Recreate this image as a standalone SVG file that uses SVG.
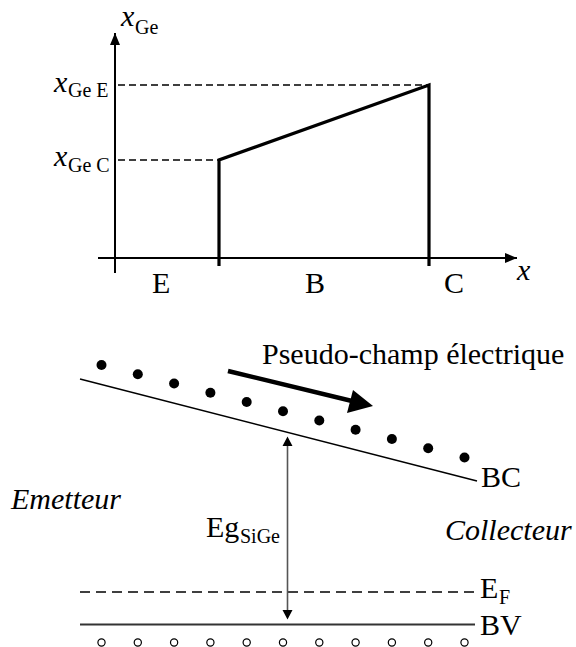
<svg xmlns="http://www.w3.org/2000/svg" width="576" height="647" viewBox="0 0 576 647">
<style>
text{font-family:"Liberation Serif","Times New Roman",Times,"DejaVu Serif",serif;fill:#000}
.t{font-size:30px}
.s{font-size:20px}
.i{font-style:italic}
.ax{stroke:#000;stroke-width:2;fill:none}
.thk{stroke:#000;stroke-width:3.2;fill:none;stroke-linejoin:miter}
.dsh{stroke:#000;stroke-width:1.3;stroke-dasharray:7 4;fill:none}
.thin{stroke:#000;stroke-width:1.4;fill:none}
</style>
<defs>
<marker id="ax" viewBox="0 0 12 10" refX="12" refY="5" markerWidth="12" markerHeight="10" markerUnits="userSpaceOnUse" orient="auto"><path d="M0,0 L12,5 L0,10 Z" fill="#000"/></marker>
</defs>
<g id="connectors">
<line class="ax" x1="115" y1="273" x2="115" y2="33" marker-end="url(#ax)"/>
<line class="ax" x1="98" y1="258" x2="517" y2="258" marker-end="url(#ax)"/>
<line class="dsh" x1="118" y1="85" x2="429" y2="85"/>
<line class="dsh" x1="118" y1="160" x2="219" y2="160"/>
<polyline class="thk" points="219,266 219,160 429,85 429,266"/>
<line class="thin" x1="80" y1="379" x2="477" y2="481"/>
<line class="dsh" x1="80" y1="592" x2="475" y2="592" style="stroke-dasharray:10 6;stroke-width:1.4"/>
<line class="thin" x1="80" y1="624.5" x2="475" y2="624.5" style="stroke:#333;stroke-width:1.8"/>
<line x1="287.5" y1="610" x2="287.5" y2="445" stroke="#555" stroke-width="1.6"/>
<path d="M287.5,436.5 L282.5,446 L292.5,446 Z M287.5,619.5 L282.5,610 L292.5,610 Z" fill="#000"/>
<line x1="228" y1="371" x2="352" y2="401" stroke="#000" stroke-width="4.5"/>
<polygon points="373,406 347,413 353,390" fill="#000"/>
</g>
<g id="dots" fill="#000">
<circle cx="101.5" cy="365" r="5"/><circle cx="137.8" cy="374.3" r="5"/><circle cx="174.1" cy="383.5" r="5"/><circle cx="210.4" cy="392.8" r="5"/><circle cx="246.7" cy="402" r="5"/><circle cx="283" cy="411.3" r="5"/><circle cx="319.3" cy="420.5" r="5"/><circle cx="355.6" cy="429.8" r="5"/><circle cx="391.9" cy="439" r="5"/><circle cx="428.2" cy="448.3" r="5"/><circle cx="464.5" cy="457.5" r="5"/>
</g>
<g id="holes" fill="none" stroke="#000" stroke-width="1.2">
<circle cx="101.5" cy="642.5" r="3.6"/><circle cx="137.8" cy="642.5" r="3.6"/><circle cx="174.1" cy="642.5" r="3.6"/><circle cx="210.4" cy="642.5" r="3.6"/><circle cx="246.7" cy="642.5" r="3.6"/><circle cx="283" cy="642.5" r="3.6"/><circle cx="319.3" cy="642.5" r="3.6"/><circle cx="355.6" cy="642.5" r="3.6"/><circle cx="391.9" cy="642.5" r="3.6"/><circle cx="428.2" cy="642.5" r="3.6"/><circle cx="464.5" cy="642.5" r="3.6"/>
</g>
<g id="label-xGe"><text x="121" y="26" class="t i">x</text><text x="135" y="34" class="s">Ge</text></g>
<g id="label-xGeE"><text x="54" y="92" class="t i">x</text><text x="68" y="97" class="s">Ge E</text></g>
<g id="label-xGeC"><text x="54" y="166" class="t i">x</text><text x="68" y="172" class="s">Ge C</text></g>
<g id="label-x"><text x="517" y="280" class="t i">x</text></g>
<g id="label-E"><text x="152" y="293" class="t">E</text></g>
<g id="label-B"><text x="305" y="293" class="t">B</text></g>
<g id="label-C"><text x="444" y="293" class="t">C</text></g>
<g id="label-pseudo"><text x="262" y="364" class="t">Pseudo-champ électrique</text></g>
<g id="label-BC"><text x="481" y="487" class="t">BC</text></g>
<g id="label-emetteur"><text x="11" y="509" class="t i">Emetteur</text></g>
<g id="label-collecteur"><text x="445" y="540" class="t i">Collecteur</text></g>
<g id="label-Eg"><text x="206" y="537" class="t">Eg</text><text x="240" y="543" class="s">SiGe</text></g>
<g id="label-EF"><text x="480" y="598" class="t">E</text><text x="499" y="604" class="s">F</text></g>
<g id="label-BV"><text x="480" y="635" class="t">BV</text></g>
</svg>
